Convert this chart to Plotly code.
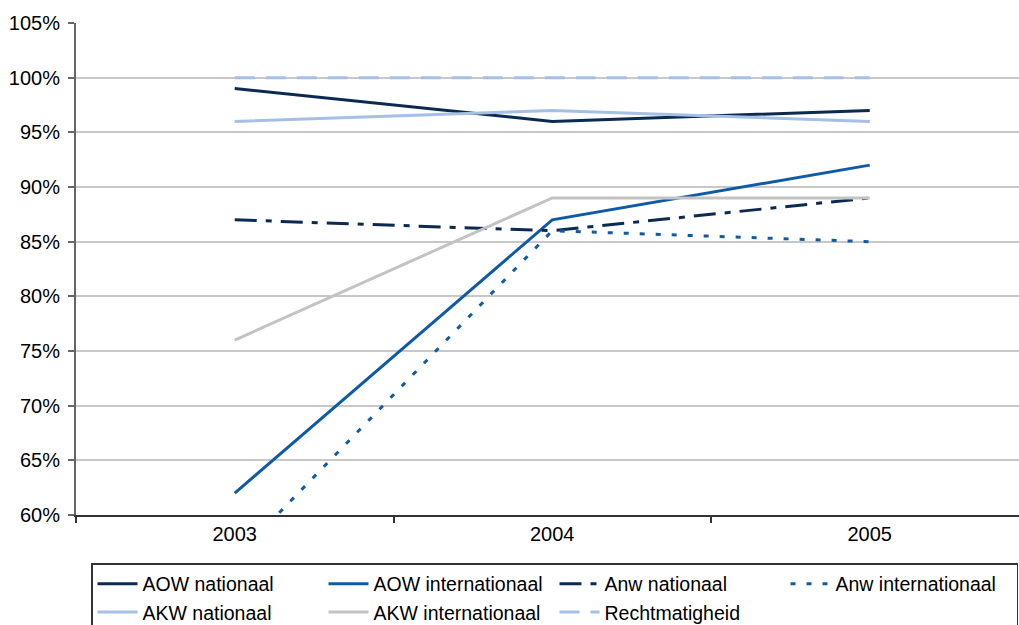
import plotly.graph_objects as go

# Jaren en percentages per regeling
years = ["2003", "2004", "2005"]

aow_nationaal = [99, 96, 97]
aow_internationaal = [62, 87, 92]
anw_nationaal = [87, 86, 89]
anw_internationaal = [56, 86, 85]
akw_nationaal = [96, 97, 96]
akw_internationaal = [76, 89, 89]
rechtmatigheid = [100, 100, 100]

y_ticks = [60, 65, 70, 75, 80, 85, 90, 95, 100, 105]
y_tick_labels = [f"{v}%" for v in y_ticks]

NAVY = "#0b2a52"
BLUE = "#0f5aa6"
LIGHT = "#a5bfe6"
GREY = "#c3c3c3"

series = [
    ("AOW nationaal", aow_nationaal, NAVY, "solid"),
    ("AOW internationaal", aow_internationaal, BLUE, "solid"),
    ("Anw nationaal", anw_nationaal, NAVY, "22px,9px,6px,9px"),
    ("Anw internationaal", anw_internationaal, BLUE, "5px,11px"),
    ("AKW nationaal", akw_nationaal, LIGHT, "solid"),
    ("AKW internationaal", akw_internationaal, GREY, "solid"),
    ("Rechtmatigheid", rechtmatigheid, LIGHT, "20px,11px"),
]

fig = go.Figure()
for name, values, color, dash in series:
    fig.add_trace(go.Scatter(
        x=years, y=values, name=name, mode="lines",
        line=dict(color=color, width=3, dash=dash),
    ))

W, H = 1019, 625
m_l, m_r, m_t, m_b = 76, 0, 23, 110
plot_w = W - m_l - m_r
plot_h = H - m_t - m_b

fig.update_layout(
    width=W, height=H,
    margin=dict(l=m_l, r=m_r, t=m_t, b=m_b, autoexpand=False),
    paper_bgcolor="white", plot_bgcolor="white",
    font=dict(family="Liberation Sans, Arial, sans-serif", size=20, color="black"),
    showlegend=True,
    legend=dict(
        orientation="h",
        x=(91 - m_l) / plot_w, xanchor="left",
        y=-(563 - (m_t + plot_h)) / plot_h, yanchor="top",
        entrywidth=176, entrywidthmode="pixels",
        bordercolor="#333333", borderwidth=1.5,
        bgcolor="white",
        font=dict(size=19.5),
        traceorder="normal",
        itemwidth=40,
    ),
    xaxis=dict(
        type="category",
        range=[-0.5, -0.5 + plot_w / 317.5],
        tickson="boundaries",
        ticks="outside", ticklen=6, tickcolor="#333333", tickwidth=1.5,
        showline=True, linecolor="#333333", linewidth=1.5,
        showgrid=False, zeroline=False,
    ),
    yaxis=dict(
        range=[60, 105],
        tickvals=y_ticks, ticktext=y_tick_labels,
        ticks="outside", ticklen=6, tickcolor="#666666", tickwidth=1.5,
        ticklabelstandoff=4,
        showline=True, linecolor="#666666", linewidth=2,
        showgrid=True, gridcolor="#c8c8c8", gridwidth=1.5,
        zeroline=False,
    ),
)

fig.write_html("out.html")
